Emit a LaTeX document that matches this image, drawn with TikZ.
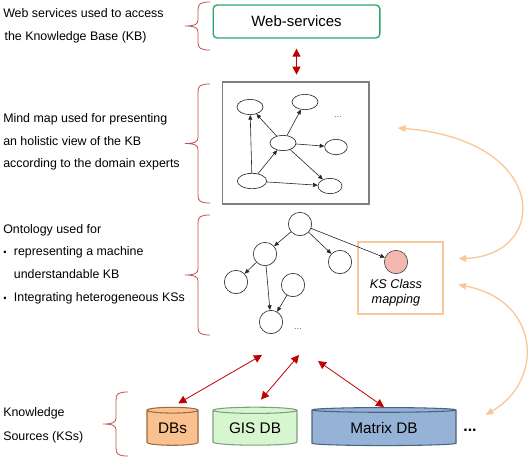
\documentclass[tikz,border=0pt]{standalone}
\usepackage{fontspec}
\setmainfont{Liberation Sans}
\usetikzlibrary{positioning,arrows.meta,shapes.geometric}
\definecolor{kbred}{HTML}{C00000}
\definecolor{bracered}{HTML}{C0504D}
\definecolor{wsgreen}{HTML}{2EA56B}
\definecolor{mmgray}{HTML}{7F7F7F}
\definecolor{ksorange}{HTML}{F8C89A}
\definecolor{kspink}{HTML}{F4B8AE}
\definecolor{dbsfill}{HTML}{FAC090}
\definecolor{dbsline}{HTML}{9C6A44}
\definecolor{gisfill}{HTML}{D6F6CF}
\definecolor{gisline}{HTML}{7F9F7F}
\definecolor{matfill}{HTML}{95B3D7}
\definecolor{matline}{HTML}{4A6382}

\newcommand{\kbbrace}[3]{%
  \pgfmathsetmacro{\kbmid}{(#2+#3)/2}%
  \draw[bracepath] (#1,#2) .. controls (#1-10,#2) and (#1-12,#2+2) .. (#1-12,#2+8)
    -- (#1-12,\kbmid-6) .. controls (#1-12,\kbmid-2) and (#1-15,\kbmid) .. (#1-25,\kbmid)
    .. controls (#1-15,\kbmid) and (#1-12,\kbmid+2) .. (#1-12,\kbmid+6)
    -- (#1-12,#3-8) .. controls (#1-12,#3-2) and (#1-10,#3) .. (#1,#3);}

\begin{document}
\begin{tikzpicture}[x=0.75pt,y=-0.75pt,
  lefttext/.style={anchor=west, align=left, font=\fontsize{9.3}{17}\selectfont, inner sep=0pt},
  mmnode/.style={ellipse, draw=black!80, line width=0.5pt, inner sep=0pt, minimum width=19.5pt, minimum height=11.5pt},
  onnode/.style={circle, draw=black!80, line width=0.5pt, inner sep=0pt, minimum size=17.5pt},
  tree/.style={-{Triangle[length=3.5pt,width=3pt]}, line width=0.45pt, black!85},
  kblink/.style={{Triangle[length=6pt,width=6pt]}-{Triangle[length=6pt,width=6pt]}, kbred, line width=0.6pt},
  kslink/.style={{Triangle[length=6pt,width=5pt]}-{Triangle[length=6pt,width=5pt]}, ksorange, line width=1pt},
  dbcyl/.style={cylinder, shape border rotate=90, draw, line width=0.8pt, inner sep=0pt, minimum height=28.5pt, font=\fontsize{11.5}{13}\selectfont},
  dots/.style={font=\fontsize{7}{8}\selectfont, text=black!60, inner sep=0pt},
  bracepath/.style={bracered, line width=0.6pt}
]
\useasboundingbox (0,0) rectangle (530,457);

\node[lefttext] (wstext) at (3,26) {Web services used to access\\\hspace{1pt}the Knowledge Base (KB)};
\node[lefttext] (mmtext) at (3,142) {Mind map used for presenting\\an holistic view of the KB\\according to the domain experts};
\node[lefttext] (ontext) at (3,264) {Ontology used for\\\makebox[8pt][l]{\scriptsize\textbullet}representing a machine\\\hspace{8pt}understandable KB\\\makebox[8pt][l]{\scriptsize\textbullet}Integrating heterogeneous KSs};
\node[lefttext, font=\fontsize{9.3}{18}\selectfont] (kstext) at (3,425) {Knowledge\\Sources (KSs)};

\kbbrace{210}{2}{50}
\kbbrace{210}{84}{203}
\kbbrace{210}{215}{335}
\kbbrace{128}{392}{456}

\node[draw=wsgreen, line width=1pt, rounded corners=3pt, minimum width=125pt, minimum height=24.75pt, font=\fontsize{11.2}{13}\selectfont] (ws) at (296.5,21.5) {Web-services};

\node[draw=mmgray, line width=1pt, minimum width=110pt, minimum height=91.5pt, inner sep=0pt] (mmbox) at (295.5,143) {};
\node[mmnode] (mma) at (250,107) {};
\node[mmnode] (mmb) at (305,102) {};
\node[mmnode] (mmc) at (283,143) {};
\node[mmnode, minimum width=17pt] (mmd) at (336,147) {};
\node[mmnode, minimum width=22pt] (mme) at (252,181) {};
\node[mmnode, minimum width=18pt] (mmf) at (330,186) {};
\node[dots] (mmdots) at (338,117) {...};
\draw[tree] (mme) -- (mma);
\draw[tree] (mmc) -- (mma);
\draw[tree] (mmc) -- (mmb);
\draw[tree] (mme) -- (mmc);
\draw[tree] (mmc) -- (mmd);
\draw[tree] (mmc) -- (mmf);
\draw[tree] (mme) -- (mmf);

\draw[kblink, line width=0.9pt, shorten <=7.5pt, shorten >=5pt] (ws.south) -- (ws.south |- mmbox.north);

\node[onnode] (onr) at (300,224) {};
\node[onnode] (onl) at (265,254) {};
\node[onnode] (onm) at (340,262) {};
\node[onnode] (onll) at (236,282) {};
\node[onnode] (onx) at (293,285) {};
\node[onnode] (onb) at (271,322) {};
\node[dots] (ondots) at (298,329) {...};

\node[draw=ksorange, line width=1pt, minimum width=63.75pt, minimum height=54pt, inner sep=0pt] (ksbox) at (400.5,278) {};
\node[onnode, fill=kspink, draw=black!70] (kscls) at (396,262) {};
\node[font=\itshape\fontsize{9.5}{11.25}\selectfont, align=center, inner sep=0pt] (kslabel) at (396,292.5) {KS Class\\mapping};

\draw[tree] (onr) -- (onl);
\draw[tree] (onr) -- (onm);
\draw[tree] (onr) -- (kscls);
\draw[tree] (onl) -- (onll);
\draw[tree] (onl) -- (onb);
\draw[tree] (onx) -- (onb);

\node[dbcyl, fill=dbsfill, draw=dbsline, minimum width=38.25pt, aspect=0.2] (dbs) at (172.5,428) {DBs};
\node[dbcyl, fill=gisfill, draw=gisline, minimum width=63pt, aspect=0.12] (gis) at (255,428) {GIS DB};
\node[dbcyl, fill=matfill, draw=matline, minimum width=108pt, aspect=0.07] (mat) at (384,428) {Matrix DB};
\node[font=\bfseries\fontsize{12}{14}\selectfont, inner sep=0pt] (moredb) at (470,430) {...};

\coordinate (hubdbs) at (262,355);
\coordinate (hubgis) at (299,355);
\coordinate (hubmat) at (318,361);
\draw[kblink, shorten >=5pt] (hubdbs) -- (dbs.north);
\draw[kblink, shorten >=7pt] (hubgis) -- (gis.north);
\draw[kblink] (hubmat) -- (mat.north);

\draw[kslink, shorten <=11pt] ([yshift=14pt]ksbox.east) .. controls (550,255) and (550,140) .. ([shift={(28,-15)}]mmbox.east);
\draw[kslink, shorten <=11pt] ([yshift=-3pt]ksbox.east) .. controls (540,300) and (545,380) .. ([shift={(29,-13)}]mat.east);
\end{tikzpicture}
\end{document}
